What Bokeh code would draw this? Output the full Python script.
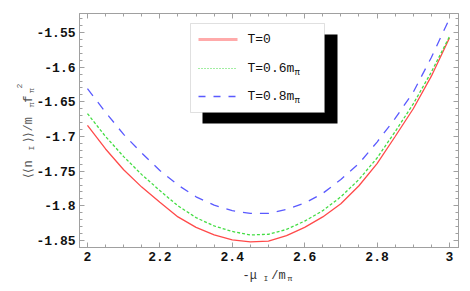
import numpy as np
from bokeh.plotting import figure
from bokeh.models import Range1d, LinearAxis, FixedTicker, CustomJSTickFormatter, Label, BoxAnnotation
from bokeh.embed import file_html
from bokeh.resources import INLINE

# ---------------- data ----------------
mu = [2.00, 2.05, 2.10, 2.15, 2.20, 2.25, 2.30, 2.35, 2.40, 2.45, 2.50,
      2.55, 2.60, 2.65, 2.70, 2.75, 2.80, 2.85, 2.90, 2.95, 3.00]
n_T0 = [-1.684, -1.718, -1.748, -1.773, -1.795, -1.816, -1.831, -1.842, -1.849, -1.852, -1.851,
        -1.843, -1.831, -1.816, -1.797, -1.771, -1.739, -1.700, -1.660, -1.613, -1.558]
n_T06 = [-1.667, -1.700, -1.729, -1.755, -1.778, -1.800, -1.817, -1.829, -1.837, -1.842, -1.841,
         -1.834, -1.822, -1.807, -1.787, -1.762, -1.731, -1.693, -1.653, -1.607, -1.556]
n_T08 = [-1.631, -1.665, -1.697, -1.724, -1.749, -1.770, -1.787, -1.799, -1.807, -1.811, -1.811,
         -1.805, -1.796, -1.782, -1.762, -1.739, -1.708, -1.674, -1.636, -1.586, -1.530]
x_ticks = [2.0, 2.2, 2.4, 2.6, 2.8, 3.0]
x_tick_labels = ["2", "2.2", "2.4", "2.6", "2.8", "3"]
y_ticks = [-1.85, -1.8, -1.75, -1.7, -1.65, -1.6, -1.55]
y_tick_labels = ["-1.85", "-1.8", "-1.75", "-1.7", "-1.65", "-1.6", "-1.55"]
legend_labels = ["T=0", "T=0.6m", "T=0.8m"]
legend_subs = ["", "\u03c0", "\u03c0"]
NB = "\u00a0"
ytitle_a = "\u27e8\u27e8n"
ytitle_b = "\u27e9\u27e9/m" + NB * 2 + "f"
ytitle_sub = "I" + NB * 8 + "\u03c0" + NB * 2 + "\u03c0"
ytitle_sup = "2"
xtitle_main = "-\u03bc" + NB * 2 + "/m"
xtitle_sub = "I" + NB * 4 + "\u03c0"

FONT = "Liberation Mono"
RED, GREEN, BLUE = "#ff4a4a", "#44dd44", "#5a5aff"
FRAME = "#a0a0a0"

x0, x1 = 1.978, 3.025
y0, y1 = -1.8601, -1.5226
W, H = 470, 291

p = figure(width=W, height=H, output_backend="svg", toolbar_location=None,
           x_range=Range1d(x0, x1), y_range=Range1d(y0, y1),
           min_border_left=79, min_border_right=12, min_border_top=13, min_border_bottom=44)
p.grid.visible = False
p.outline_line_color = FRAME
p.background_fill_color = "white"
p.border_fill_color = "white"

# frame pixel (reference image) -> data helpers for chrome placement
FL, FR, FT, FB = 79, 458, 13, 247
def fx(px):
    return x0 + (px - FL) / (FR - FL) * (x1 - x0)
def fy(py):
    return y1 - (py - FT) / (FB - FT) * (y1 - y0)

xt = FixedTicker(ticks=x_ticks, minor_ticks=list(np.round(np.arange(1.95, 3.051, 0.05), 3)))
yt = FixedTicker(ticks=y_ticks, minor_ticks=list(np.round(np.arange(-1.87, -1.50, 0.01), 3)))

code = """
let best = 0, d = Infinity;
for (let i = 0; i < tv.length; i++) { const e = Math.abs(tv[i] - tick); if (e < d) { d = e; best = i; } }
return tl[best];
"""
xf = CustomJSTickFormatter(args=dict(tv=x_ticks, tl=x_tick_labels), code=code)
yf = CustomJSTickFormatter(args=dict(tv=y_ticks, tl=y_tick_labels), code=code)
blank = CustomJSTickFormatter(code="return ''")

def style(ax, show):
    ax.axis_line_color = FRAME
    ax.major_tick_line_color = FRAME
    ax.minor_tick_line_color = FRAME
    ax.major_tick_in = 5
    ax.major_tick_out = 0
    ax.minor_tick_in = 3
    ax.minor_tick_out = 0
    ax.major_label_text_font = FONT
    ax.major_label_text_color = "#111111"
    ax.major_label_text_font_size = "13px"
    ax.major_label_text_font_style = "bold"
    ax.major_label_standoff = 4 if show else 0

p.xaxis.ticker = xt
p.xaxis.formatter = xf
p.yaxis.ticker = yt
p.yaxis.formatter = yf
style(p.xaxis[0], True)
style(p.yaxis[0], True)

top = LinearAxis(ticker=xt, formatter=blank)
right = LinearAxis(ticker=yt, formatter=blank)
style(top, False)
style(right, False)
p.add_layout(top, "above")
p.add_layout(right, "right")

# curves
p.line(mu, n_T0, line_color=RED, line_width=1.3)
p.line(mu, n_T06, line_color=GREEN, line_width=1.3, line_dash="3 2")
p.line(mu, n_T08, line_color=BLUE, line_width=1.3, line_dash="9 8")

# legend (with shadow)
p.add_layout(BoxAnnotation(left=fx(202), right=fx(337), top=fy(34), bottom=fy(123),
                           fill_color="black", fill_alpha=1, line_color=None, level="underlay"))
p.add_layout(BoxAnnotation(left=fx(190), right=fx(324), top=fy(23), bottom=fy(112),
                           fill_color="white", fill_alpha=1, line_color="#999999", line_width=1, level="underlay"))
rows = [39, 68, 96]
p.segment(x0=[fx(198)], y0=[fy(rows[0])], x1=[fx(237)], y1=[fy(rows[0])],
          line_color="#ffaaaa", line_width=3)
p.segment(x0=[fx(198)], y0=[fy(rows[1])], x1=[fx(237)], y1=[fy(rows[1])],
          line_color=GREEN, line_width=1, line_dash="1 2")
p.segment(x0=[fx(198)], y0=[fy(rows[2])], x1=[fx(237)], y1=[fy(rows[2])],
          line_color=BLUE, line_width=1.3, line_dash="7 8")
for r, lab, sub in zip(rows, legend_labels, legend_subs):
    p.add_layout(Label(x=fx(247), y=fy(r), text=lab, text_font=FONT, text_font_size="13px",
                       text_baseline="middle", text_color="#111111"))
    if sub:
        p.add_layout(Label(x=fx(294), y=fy(r + 4), text=sub, text_font=FONT, text_font_size="9px",
                           text_baseline="middle", text_color="#111111"))

# axis titles: placed in side panels (so not clipped to the frame), positioned in data units
YC = "#555555"
def ylab(t, py, bx, fs, side):
    p.add_layout(Label(x=fx(bx), y=fy(py), text=t, angle=np.pi / 2, text_font=FONT, text_font_size=fs,
                       text_baseline="alphabetic", text_align="left", text_color=YC), side)
ylab(ytitle_a, 177, 28, "12px", "left")
ylab(ytitle_b, 141, 28, "12px", "left")
ylab(ytitle_sub, 150, 31, "8px", "right")
ylab(ytitle_sup, 88, 19, "8px", "above")

XC = "#333333"
p.add_layout(Label(x=fx(242), y=fy(275), text=xtitle_main, text_font=FONT, text_font_size="12px",
                   text_baseline="alphabetic", text_align="left", text_color=XC), "below")
p.add_layout(Label(x=fx(263), y=fy(278), text=xtitle_sub, text_font=FONT, text_font_size="8px",
                   text_baseline="alphabetic", text_align="left", text_color=XC), "below")

open("out.html", "w").write(file_html(p, INLINE))
